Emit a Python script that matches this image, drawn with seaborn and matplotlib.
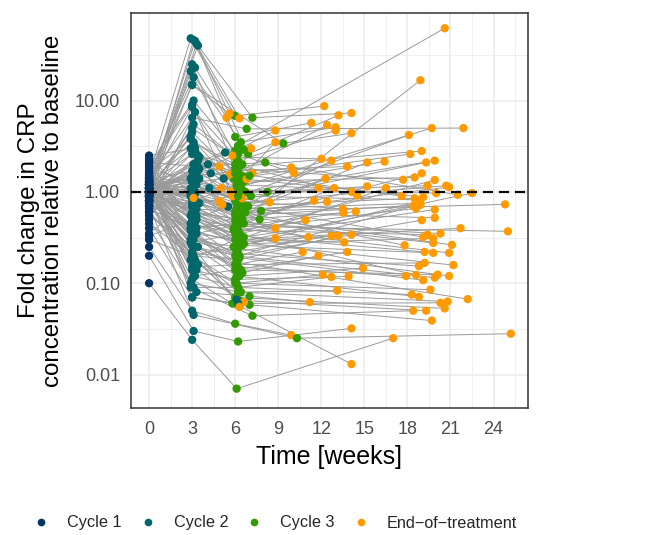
import matplotlib
matplotlib.use("Agg")
import matplotlib.pyplot as plt
from matplotlib.lines import Line2D
from matplotlib.ticker import FixedLocator, FixedFormatter
import seaborn as sns
import pandas as pd
import numpy as np

nan = np.nan

# --- data (one entry per patient) ---
visits = ["Cycle 1", "Cycle 2", "Cycle 3", "End-of-treatment"]
legend_labels = ["Cycle 1", "Cycle 2", "Cycle 3", "End\u2212of\u2212treatment"]
visit_colors = ["#023466", "#02666B", "#349A02", "#FF9A00"]

c1_week = 0.0
c1_val = [1.00, 1.20, 1.50, 1.10, 0.90, 1.30, 1.00, 0.80, 1.60, 1.05,
          2.00, 1.20, 0.70, 1.10, 1.40, 0.95, 0.90, 1.25, 1.00, 1.30,
          0.80, 1.00, 1.15, 0.60, 1.05, 1.70, 1.00, 0.90, 1.80, 0.95,
          1.40, 1.00, 0.85, 1.10, 0.75, 1.20, 0.90, 1.00, 1.35, 0.70,
          1.00, 1.10, 2.10, 0.90, 1.20, 1.00, 1.50, 0.65, 0.80, 1.10,
          1.00, 1.25, 0.90, 1.90, 1.30, 1.00, 0.55, 1.05, 1.10, 0.95,
          0.90, 1.20, 1.00, 0.80, 1.45, 1.10, 1.00, 1.40, 0.45, 1.00,
          1.20, 0.95, 0.60, 1.00, 1.10, 0.85, 1.00, 1.30, 0.75, 0.80,
          1.00, 1.20, 0.50, 0.25, 0.20, 0.10, 0.70, 0.40, 1.10, 1.00,
          0.80, 1.00, 1.20, 0.95, 0.90, 1.00, 1.30, 1.05, 0.70, 1.00,
          1.10, 1.00, 0.90, 1.20, 1.00, 0.80, 1.00, 1.10, 2.20, 1.40,
          1.00, 0.90, 1.00, 1.20, 1.60, 0.85, 1.00, 1.30, 1.00, 1.50,
          1.00, 0.90, 1.10, 1.00, 1.20, 0.60, 1.00, 1.00, 1.10, 1.00,
          1.20, 0.90, 1.00, 1.10, 0.33, 2.30, 0.35, 1.00, 2.50, 0.30]

c2_week = [3.1, 3.0, 2.9, 3.2, 3.3, 3.4, 3.0, 2.9, 3.1, 3.0,
           3.1, 3.0, 3.2, 2.9, 3.0, 3.1, 3.5, 3.0, 3.1, 2.9,
           3.2, 3.0, 3.4, 3.1, 3.0, 2.9, 3.1, 3.0, 3.0, 3.2,
           3.0, 3.3, 3.1, 2.9, 3.0, 3.2, 3.5, 3.1, 3.0, 2.9,
           3.1, 3.0, 3.4, 3.2, 3.0, 2.9, 3.1, 3.0, 3.3, 3.0,
           3.1, 3.0, 2.9, 3.2, 3.0, 3.4, 3.1, 3.0, 2.9, 3.3,
           3.0, 3.1, 3.0, 3.5, 3.2, 3.0, 2.9, 3.1, 3.0, 3.3,
           3.2, 3.0, 2.9, 3.1, 3.0, 3.4, 3.2, 3.0, 3.0, 3.1,
           3.0, 2.9, 3.3, 3.0, 3.1, 3.0, 3.1, 3.0, 2.9, 3.2,
           3.0, 3.4, 3.1, 3.0, 2.9, 3.2, 3.0, 3.0, 3.1, 3.3,
           3.0, 3.3, 2.9, 3.0, 3.1, 3.5, 3.0, 3.2, 3.0, 2.9,
           3.1, 3.0, 3.3, 3.2, 3.0, 2.9, 3.1, 3.0, 3.1, 3.2,
           3.0, 3.4, 3.0, 3.1, 2.9, 6.1, 6.2, 3.0, 3.1, 4.1,
           4.3, 4.2, 5.3, 5.2, 5.5, 3.0, nan, 3.3, 3.2, 3.0]

c2_val = [2.0, 1.1, 48, 45, 42, 40, 25, 21, 18, 15,
          10, 8.5, 7.5, 4.0, 6.5, 3.3, 1.8, 2.6, 5.5, 3.0,
          1.5, 0.9, 2.2, 1.2, 0.7, 3.8, 1.6, 4.5, 9.0, 2.8,
          1.3, 0.55, 0.8, 1.4, 0.35, 1.0, 2.4, 0.6, 1.7, 0.45,
          1.1, 0.75, 1.9, 0.5, 1.3, 0.95, 3.5, 0.4, 0.65, 1.05,
          2.0, 0.85, 0.3, 1.2, 0.6, 1.7, 0.25, 0.5, 0.9, 0.4,
          0.7, 0.55, 0.32, 1.4, 0.8, 0.5, 0.28, 0.6, 0.2, 0.35,
          0.45, 0.22, 0.18, 0.3, 0.15, 0.25, 0.12, 0.38, 0.2, 0.09,
          0.14, 0.1, 0.08, 0.05, 0.03, 0.024, 0.045, 0.07, 0.4, 0.65,
          0.3, 0.16, 0.12, 0.26, 0.09, 0.18, 0.07, 0.11, 0.2, 0.14,
          0.35, 0.5, 0.28, 0.42, 0.6, 0.75, 1.0, 0.8, 0.45, 0.55,
          0.33, 0.26, 1.2, 0.95, 0.7, 0.38, 0.6, 14.8, 46, 23,
          5.0, 2.5, 0.85, 1.5, 1.1, 0.066, 0.06, 1.3, 0.9, 2.0,
          1.6, 1.1, 2.7, 1.4, 0.69, 0.95, nan, 1.8, 3.0, 0.2]

c3_week = [6.2, 6.1, 6.0, 6.0, 6.9, 7.2, 6.1, 6.4, 6.2, 9.35,
           6.0, 6.2, 6.5, 6.1, 6.8, 6.2, 5.9, 6.3, 6.0, 6.6,
           6.2, 6.0, 6.4, 6.1, 6.7, 6.5, 6.2, 6.1, nan, nan,
           6.2, 5.9, 6.1, 6.3, 6.2, 6.0, 6.6, 6.4, 6.2, 6.0,
           6.1, 6.3, 8.1, 6.2, 6.5, 8.25, 6.0, 6.2, 6.7, 6.3,
           6.0, 6.2, 6.1, 6.4, 5.9, 6.3, 6.2, 6.6, 6.0, 7.8,
           6.2, 6.3, 6.1, 6.0, 6.5, 6.1, 6.3, 6.2, 5.9, 6.6,
           6.4, 6.2, 6.0, 6.3, 6.1, 6.5, 6.0, 6.3, 6.1, 6.2,
           6.0, 6.4, 7.0, 6.0, 6.2, 6.1, 10.3, 6.0, 6.2, 6.1,
           6.3, 6.0, 6.2, 6.1, 7.2, 6.3, 7.0, 5.8, 6.2, 6.0,
           6.1, 6.2, 6.4, 6.0, 6.3, 6.1, 6.2, 6.0, 6.5, 6.3,
           6.2, 6.0, 6.1, 6.4, 6.2, 6.6, 6.3, nan, nan, nan,
           nan, nan, nan, nan, nan, nan, nan, 6.2, 6.1, 7.0,
           7.1, 6.9, 6.6, nan, 7.7, 6.2, nan, nan, nan, 6.1]

c3_val = [3.2, 0.45, 6.8, 4.0, 2.6, 6.5, 1.6, 3.5, 2.2, 3.4,
          2.8, 1.3, 2.0, 1.1, 4.9, 0.9, 1.4, 1.9, 2.4, 0.7,
          1.7, 0.55, 1.2, 0.8, 1.0, 1.5, 2.6, 1.5, nan, nan,
          0.65, 0.4, 1.2, 0.9, 0.3, 1.8, 1.3, 0.5, 1.0, 0.35,
          0.75, 0.6, 2.1, 0.28, 1.05, 1.0, 2.0, 0.45, 0.6, 0.85,
          1.6, 0.7, 0.25, 0.55, 0.38, 1.4, 0.2, 0.32, 0.6, 0.62,
          0.42, 0.3, 0.22, 0.8, 0.5, 0.42, 0.35, 0.5, 0.25, 0.45,
          0.28, 0.18, 0.3, 0.2, 0.16, 0.13, 0.14, 0.12, 0.1, 0.09,
          0.11, 0.08, 0.072, 0.036, 0.023, 0.007, 0.025, 0.06, 0.15, 0.35,
          0.19, 0.1, 0.09, 0.12, 0.044, 0.065, 0.058, 0.06, 0.08, 0.07,
          0.17, 0.24, 0.14, 0.2, 0.28, 0.4, 0.55, 0.48, 0.26, 0.33,
          0.21, 0.16, 0.62, 0.7, 0.38, 0.27, 0.45, nan, nan, nan,
          nan, nan, nan, nan, nan, nan, nan, 0.9, 0.65, 1.5,
          0.9, 0.7, 2.9, nan, 0.5, 1.1, nan, nan, nan, 0.18]

eot_week = [20.6, 18.9, 12.2, 11.3, 13.2, 14.1, 12.4, 13.0, 13.0, 14.1,
            8.8, 8.8, 7.1, 19.7, 21.9, 18.1, 18.2, 19.0, 12.0, 12.7,
            13.8, 15.2, 16.4, 19.3, 19.9, 9.9, 10.1, 7.2, 4.9, 5.6,
            12.3, 12.9, 11.8, 15.2, 16.5, 17.7, 18.5, 19.0, 19.4, 19.9,
            20.7, 20.9, 21.5, 22.5, 20.0, 14.1, 14.5, 11.5, 12.4, 8.4,
            17.6, 18.5, 18.7, 18.9, 18.6, 19.1, 18.4, 19.9, 19.9, 24.8,
            25.0, 21.7, 19.0, 13.5, 13.55, 14.4, 10.9, 8.8, 8.8, 11.1,
            12.7, 13.2, 13.6, 14.1, 10.7, 11.8, 13.8, 14.9, 12.1, 12.7,
            13.9, 13.1, 11.2, 9.9, 14.1, 17.0, 25.2, 14.1, 17.9, 18.6,
            19.1, 19.6, 18.3, 18.8, 18.4, 19.3, 19.7, 20.3, 20.8, 20.6,
            22.2, 20.9, 20.1, 19.9, 21.2, 20.9, 21.1, 19.8, 19.8, 19.2,
            18.8, 19.2, 17.8, 19.1, 19.4, 19.8, 20.3, 5.6, 6.3, 5.4,
            5.8, 6.8, 4.9, 5.8, 6.5, 6.6, 6.3, 18.6, 18.9, nan,
            nan, nan, nan, 5.7, nan, nan, 3.1, 5.0, 5.1, nan]

eot_val = [62, 16.7, 8.7, 5.7, 6.9, 7.3, 5.4, 5.1, 4.7, 4.4,
           4.7, 3.5, 3.0, 5.0, 5.0, 4.2, 2.6, 2.8, 2.3, 2.2,
           1.9, 2.1, 2.15, 2.1, 2.2, 1.85, 1.6, 1.6, 1.9, 1.55,
           1.4, 1.1, 1.1, 1.15, 1.1, 1.36, 1.44, 1.6, 1.17, 1.35,
           1.17, 1.13, 0.93, 0.97, 0.97, 1.0, 0.91, 0.80, 0.78, 0.77,
           0.9, 0.85, 0.78, 0.72, 0.66, 0.88, 0.70, 0.64, 0.52, 0.73,
           0.37, 0.40, 0.49, 0.65, 0.59, 0.61, 0.49, 0.40, 0.31, 0.32,
           0.33, 0.33, 0.28, 0.34, 0.22, 0.20, 0.22, 0.146, 0.124, 0.117,
           0.119, 0.083, 0.062, 0.027, 0.032, 0.025, 0.028, 0.013, 0.12, 0.123,
           0.108, 0.085, 0.075, 0.071, 0.050, 0.050, 0.039, 0.061, 0.063, 0.053,
           0.067, 0.12, 0.124, 0.115, 0.158, 0.215, 0.263, 0.276, 0.215, 0.22,
           0.154, 0.167, 0.26, 0.32, 0.34, 0.31, 0.35, 7.2, 6.4, 6.5,
           2.5, 1.38, 0.79, 0.9, 0.85, 0.062, 0.055, 0.82, 0.75, nan,
           nan, nan, nan, 1.0, nan, nan, 0.86, 1.1, 0.72, nan]

# --- long table: one row per patient visit ---
rows = []
for i in range(len(c1_val)):
    weeks = (c1_week, c2_week[i], c3_week[i], eot_week[i])
    vals = (c1_val[i], c2_val[i], c3_val[i], eot_val[i])
    for visit, wk, v in zip(visits, weeks, vals):
        if not np.isnan(v):
            rows.append((i + 1, visit, wk, v))
df = pd.DataFrame(rows, columns=["patient", "visit", "week", "fold"])

# --- style ---
sns.set_theme(style="white")
plt.rcParams["font.family"] = ["Liberation Sans", "DejaVu Sans"]

fig = plt.figure(figsize=(6.45, 5.35), dpi=100)
ax = fig.add_axes([131 / 645, 1 - 408 / 535, 397 / 645, 395 / 535])
ax.set_yscale("log")

sns.lineplot(data=df, x="week", y="fold", units="patient", estimator=None,
             sort=False, color="#9A9A9A", linewidth=0.7, ax=ax, zorder=2)
sns.scatterplot(data=df, x="week", y="fold", hue="visit", hue_order=visits,
                palette=dict(zip(visits, visit_colors)), s=36, linewidth=0,
                ax=ax, legend=False, zorder=3)
ax.axhline(1, color="black", linewidth=1.6, linestyle=(0, (4.5, 2.7)), zorder=4)

# axes
ax.set_xlim(-1.26, 26.4)
ax.set_ylim(0.0043, 91)
ax.xaxis.set_major_locator(FixedLocator(np.arange(0, 25, 3)))
ax.xaxis.set_minor_locator(FixedLocator(np.arange(1.5, 26, 3)))
ax.yaxis.set_major_locator(FixedLocator([0.01, 0.1, 1, 10]))
ax.yaxis.set_major_formatter(FixedFormatter(["0.01", "0.10", "1.00", "10.00"]))
ax.yaxis.set_minor_locator(FixedLocator(10.0 ** np.array([-2.5, -1.5, -0.5, 0.5, 1.5])))
ax.yaxis.set_minor_formatter(FixedFormatter([]))

ax.set_axisbelow(True)
ax.grid(which="major", color="#EBEBEB", linewidth=1.1)
ax.grid(which="minor", color="#EBEBEB", linewidth=0.55)
for sp in ax.spines.values():
    sp.set_color("#333333")
    sp.set_linewidth(1.1)
ax.tick_params(which="major", length=4, width=0.8, color="#333333",
               labelcolor="#4D4D4D", labelsize=13, pad=4)
ax.tick_params(axis="x", which="major", pad=5.3)
ax.tick_params(which="minor", length=0)

ax.set_xlabel("Time [weeks]", fontsize=18, color="black", labelpad=5)
ax.set_ylabel("Fold change in CRP\nconcentration relative to baseline",
              fontsize=17.4, color="black", linespacing=1.1, labelpad=8)

# legend along the bottom
handles = [Line2D([], [], marker="o", linestyle="", color=c, markersize=4.5)
           for c in visit_colors]
fig.legend(handles, legend_labels, loc="center left",
           bbox_to_anchor=(33 / 645, 1 - 523 / 535), ncol=4, frameon=False,
           fontsize=11.7, handlelength=1.0, handletextpad=1.1,
           columnspacing=1.1, borderpad=0, borderaxespad=0)

fig.savefig("out.png", dpi=100)
